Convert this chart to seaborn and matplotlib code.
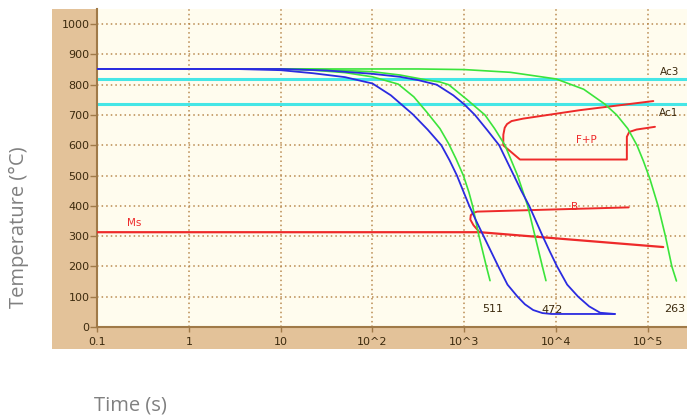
import numpy as np
import matplotlib
matplotlib.use("Agg")
import matplotlib.pyplot as plt
from matplotlib.patches import Rectangle
from matplotlib.ticker import NullLocator
import seaborn as sns

# ---------------- data (time as log10 of seconds, temperature in °C) ----------------
blue1_logt = [-1, 0.5, 1.0, 1.35, 1.7, 2.0, 2.2, 2.44, 2.6, 2.75, 2.84, 2.92, 3.0, 3.054, 3.13, 3.21, 3.29, 3.37, 3.47, 3.58, 3.66, 3.75, 3.85, 3.95, 4.64]
blue1_temp = [852, 852, 848, 838, 825, 804, 765, 702, 652, 600, 550, 500, 440, 400, 350, 300, 250, 200, 140, 100, 75, 56, 46, 43, 43]

blue2_logt = [-1, 1.0, 1.5, 2.0, 2.3, 2.5, 2.7, 2.88, 3.0, 3.116, 3.25, 3.38, 3.46, 3.54, 3.62, 3.707, 3.78, 3.853, 3.93, 4.01, 4.12, 4.24, 4.36, 4.48, 4.64]
blue2_temp = [852, 852, 847, 836, 826, 815, 800, 765, 735, 700, 650, 600, 550, 500, 450, 400, 350, 300, 250, 200, 140, 100, 68, 47, 43]

green1_logt = [-1, 1.0, 1.35, 1.7, 2.0, 2.28, 2.45, 2.59, 2.735, 2.83, 2.91, 2.99, 3.05, 3.09, 3.16, 3.24, 3.28]
green1_temp = [852, 852, 848, 840, 826, 802, 760, 710, 655, 605, 555, 500, 445, 400, 300, 200, 153]

green2_logt = [-1, 1.3, 2.0, 2.3, 2.6, 2.735, 2.83, 3.025, 3.225, 3.33, 3.443, 3.58, 3.69, 3.77, 3.85, 3.889]
green2_temp = [852, 852, 843, 832, 815, 809, 800, 752, 700, 655, 600, 500, 400, 300, 200, 153]

green3_logt = [-1, 2.5, 3.0, 3.5, 4.0, 4.3, 4.53, 4.66, 4.78, 4.88, 4.95, 5.02, 5.11, 5.19, 5.26, 5.31]
green3_temp = [852, 852, 850, 841, 819, 785, 736, 700, 655, 600, 548, 490, 400, 300, 200, 152]

ac3_temp = 819
ac1_temp = 735

ms_logt = [-1, 3.17, 5.166]
ms_temp = [313, 313, 264]

fp_logt = [5.058, 4.26, 3.64, 3.515, 3.465, 3.44, 3.425, 3.424, 3.606, 4.77, 4.77, 4.796, 4.876, 5.076]
fp_temp = [746, 716, 688, 680, 670, 658, 635, 600, 553, 553, 628, 644, 652, 661]

bain_logt = [3.163, 3.10, 3.065, 3.07, 3.10, 3.14, 4.79]
bain_temp = [314, 336, 355, 369, 377, 381, 395]

hardness_labels = ["511", "472", "263"]
hardness_logt = [3.19, 3.845, 5.174]
hardness_temp = [58, 57, 58]

xtick_values = [0.1, 1, 10, 100, 1e3, 1e4, 1e5]
xtick_labels = ["0.1", "1", "10", "10^2", "10^3", "10^4", "10^5"]
ytick_values = list(range(0, 1001, 100))

# ---------------- style ----------------
sns.set_theme(style="ticks")
plt.rcParams["font.family"] = ["DejaVu Sans"]

TAN = "#E3C299"
CREAM = "#FFFCEE"
GRID = "#B98A50"
SPINE = "#A07A48"
TXT = "#3C2A0E"
BLUE = "#2B2BE0"
GREEN = "#3BE43B"
RED = "#EE2A2A"
CYAN = "#45E6E6"

W, H = 687, 415
fig = plt.figure(figsize=(W / 100, H / 100), dpi=100)
fig.patch.set_facecolor("white")
fig.add_artist(Rectangle((52 / W, (H - 349) / H), (W - 52) / W, (349 - 9) / H,
                         transform=fig.transFigure, facecolor=TAN, edgecolor="none", zorder=0))

ax = fig.add_axes([97 / W, (H - 327) / H, (W - 97) / W, (327 - 9) / H])
ax.set_facecolor(CREAM)
ax.set_zorder(1)
ax.set_xscale("log")
ax.set_xlim(0.1, 10 ** 5.425)
ax.set_ylim(0, 1050)

def T(v):
    return 10.0 ** np.asarray(v, dtype=float)

# grid
for xv in xtick_values[1:]:
    ax.axvline(xv, color=GRID, lw=1.1, ls=(0, (1, 2)), zorder=1)
for yv in ytick_values[1:]:
    ax.axhline(yv, color=GRID, lw=1.1, ls=(0, (1, 2)), zorder=1)

# critical temperatures
ax.axhline(ac3_temp, color=CYAN, lw=2.2, zorder=2)
ax.axhline(ac1_temp, color=CYAN, lw=2.2, zorder=2)

# transformation curves
sns.lineplot(x=T(ms_logt), y=ms_temp, sort=False, estimator=None, color=RED, lw=1.6, ax=ax, zorder=3)
sns.lineplot(x=T(fp_logt), y=fp_temp, sort=False, estimator=None, color=RED, lw=1.4, ax=ax, zorder=3)
sns.lineplot(x=T(bain_logt), y=bain_temp, sort=False, estimator=None, color=RED, lw=1.4, ax=ax, zorder=3)

# cooling curves
for lt, tv in [(green1_logt, green1_temp), (green2_logt, green2_temp), (green3_logt, green3_temp)]:
    sns.lineplot(x=T(lt), y=tv, sort=False, estimator=None, color=GREEN, lw=1.2, ax=ax, zorder=4)
for lt, tv in [(blue1_logt, blue1_temp), (blue2_logt, blue2_temp)]:
    sns.lineplot(x=T(lt), y=tv, sort=False, estimator=None, color=BLUE, lw=1.3, ax=ax, zorder=5)

# labels on chart
ax.text(10 ** -0.592, 343, "Ms", color=RED, fontsize=7.5, ha="center", va="center", zorder=6)
ax.text(10 ** 4.206, 397, "B", color=RED, fontsize=7.5, ha="center", va="center", zorder=6)
ax.text(10 ** 4.333, 617, "F+P", color=RED, fontsize=7.5, ha="center", va="center", zorder=6)
ax.text(10 ** 5.24, 843, "Ac3", color=TXT, fontsize=7.5, ha="center", va="center", zorder=6)
ax.text(10 ** 5.22, 707, "Ac1", color=TXT, fontsize=7.5, ha="center", va="center", zorder=6)
for lab, lt, tv in zip(hardness_labels, hardness_logt, hardness_temp):
    ax.text(10 ** lt, tv, lab, color=TXT, fontsize=8, ha="left", va="center", zorder=6)

# axes styling
for s in ["top", "right"]:
    ax.spines[s].set_visible(False)
for s in ["left", "bottom"]:
    ax.spines[s].set_color(SPINE)
    ax.spines[s].set_linewidth(1.5)
ax.set_xticks(xtick_values)
ax.set_xticklabels(xtick_labels)
ax.xaxis.set_minor_locator(NullLocator())
ax.set_yticks(ytick_values)
ax.set_yticklabels([str(v) for v in ytick_values])
ax.tick_params(axis="x", direction="out", length=3.6, width=1, color=SPINE, labelsize=8, labelcolor=TXT, pad=3.5)
ax.tick_params(axis="y", direction="out", length=5, width=1, color=SPINE, labelsize=8, labelcolor=TXT, pad=0.5)
ax.set_xlabel("")
ax.set_ylabel("")

fig.text(19 / W, (H - 227.5) / H, "Temperature (°C)", rotation=90, ha="center", va="center",
         color="#808080", fontsize=14.5, family=["Open Sans", "DejaVu Sans"])
fig.text(130 / W, (H - 410) / H, "Time (s)", ha="center", va="baseline",
         color="#808080", fontsize=14.5, family=["Open Sans", "DejaVu Sans"])

fig.savefig("out.png", dpi=100)
